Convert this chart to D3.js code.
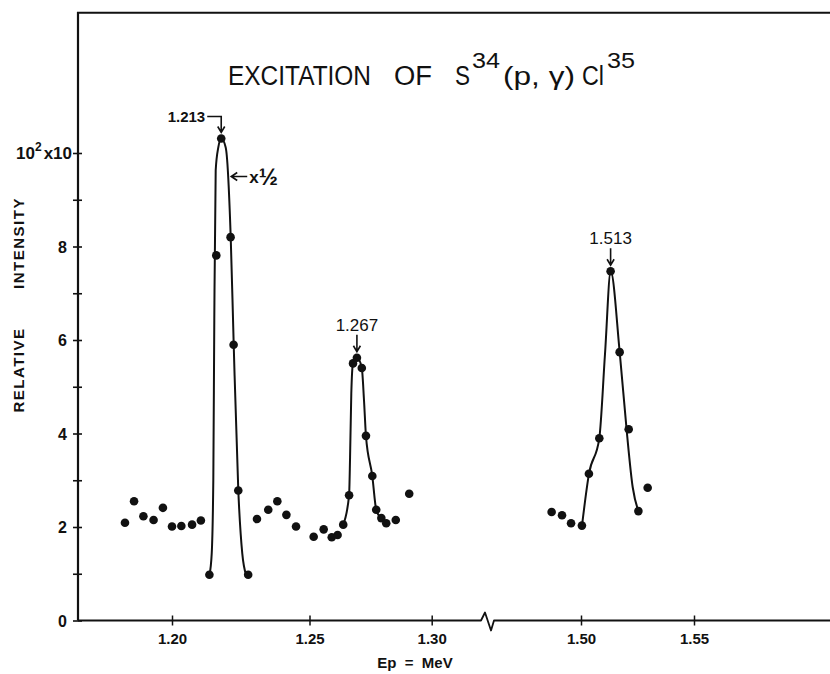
<!DOCTYPE html>
<html><head><meta charset="utf-8">
<script src="https://cdn.jsdelivr.net/npm/d3@7"></script>
<style>
body{margin:0;background:#fff}
svg{display:block}
text{font-family:"Liberation Sans",Arial,sans-serif;fill:#111}
</style>
</head><body>
<svg id="chart" width="830" height="674"></svg>
<script>
// ---------- data ----------
// measured points, proton energy in MeV
const pointsEnergy = [
  1.1829,1.1862,1.1896,1.1933,1.1967,1.2000,1.2034,1.2073,1.2105,1.2136,
  1.2161,1.2179,1.2213,1.2224,1.2241,1.2277,
  1.2309,1.2350,1.2383,1.2416,1.2451,
  1.2517,1.2558,1.2591,1.2615,1.2638,1.2662,1.2678,1.2694,1.2714,1.2731,
  1.2757,1.2773,1.2794,1.2814,1.2853,1.2908,
  1.4870,1.4916,1.4956,1.5004,1.5035,1.5081,1.5131,1.5171,1.5211,1.5254,1.5295
];
const pointsIntensity = [
  2.09,2.55,2.23,2.15,2.41,2.01,2.02,2.05,2.14,0.98,
  7.81,10.31,8.20,5.90,2.78,0.98,
  2.17,2.37,2.55,2.26,2.01,
  1.79,1.95,1.78,1.83,2.05,2.68,5.50,5.62,5.40,3.95,
  3.09,2.37,2.19,2.08,2.15,2.71,
  2.32,2.25,2.08,2.03,3.14,3.90,7.47,5.74,4.09,2.34,2.84
];
// hand-drawn resonance curves
const curve1Energy = [1.21364,1.21444,1.21502,1.21538,1.21589,1.21684,1.21793,1.21953,1.22135,1.22244,1.22411,1.22556,1.22691];
const curve1Intensity = [0.98,1.43,3.0,6.42,9.63,10.12,10.31,10.12,8.20,5.90,2.78,1.43,0.98];
const curve2Energy = [1.2638,1.2662,1.2666,1.2671,1.2678,1.2694,1.2714,1.2723,1.2731,1.2757,1.2773,1.2794];
const curve2Intensity = [2.05,2.68,3.49,4.85,5.50,5.63,5.40,4.71,3.95,3.09,2.37,2.18];
const curve3Energy = [1.50044,1.50354,1.5081,1.51062,1.51314,1.51712,1.52022,1.52288,1.52535];
const curve3Intensity = [2.03,3.14,3.90,5.70,7.47,5.74,4.06,2.85,2.34];
// resonance labels
const peakLabels = ["1.213","1.267","1.513"];
const peakEnergy = [1.2179,1.2694,1.5131];
const peakIntensity = [10.31,5.62,7.47];
// axes
const xTicksLow = [1.20,1.25,1.30];
const xTicksHigh = [1.50,1.55];
const xTickLabels = {"1.2":"1.20","1.25":"1.25","1.3":"1.30","1.5":"1.50","1.55":"1.55"};
const yTicks = [0,1,2,3,4,5,6,7,8,9,10];
const yTickLabels = {0:"0",2:"2",4:"4",6:"6",8:"8"};
const titleText = ["EXCITATION","OF","S","34","(p, γ)","Cl","35"];
const yTitle = ["RELATIVE","INTENSITY"];
const xTitle = "Ep  =  MeV";

// ---------- scales ----------
const svg = d3.select("#chart");
const mLeft = 78, mRight = 830, mTop = 12.75, mBottom = 620.5;
const xLow = d3.scaleLinear().domain([1.20,1.25,1.30]).range([172,309.5,431.7]);
const xHigh = d3.scaleLinear().domain([1.50,1.55]).range([581,694]);
const x = v => v < 1.4 ? xLow(v) : xHigh(v);
const y = d3.scaleLinear().domain([0,13]).range([mBottom, mTop]);
const breakX = 487;

const ink = "#111";

// ---------- frame ----------
svg.append("path")
  .attr("d", `M${mLeft},${mBottom} V${mTop} H${mRight}`)
  .attr("fill","none").attr("stroke",ink).attr("stroke-width",2.2);
// bottom axis line with break
svg.append("path")
  .attr("d", `M${mLeft},${mBottom} H${breakX-6} L${breakX-2},${mBottom-8} L${breakX+4},${mBottom+10} L${breakX+7},${mBottom} H${mRight}`)
  .attr("fill","none").attr("stroke",ink).attr("stroke-width",1.8).attr("stroke-linejoin","round");

// ---------- x axes ----------
function styleXAxis(g){
  g.select(".domain").remove();
  g.selectAll(".tick line").attr("y1",-5).attr("y2",5).attr("stroke",ink).attr("stroke-width",1.5);
  g.selectAll(".tick text").attr("y",13).attr("dy","0.71em")
    .style("font-size","15px").style("font-weight","bold")
    .style("font-family",'"Liberation Sans",Arial,sans-serif').attr("fill",ink);
}
svg.append("g").attr("transform",`translate(0,${mBottom})`)
  .call(d3.axisBottom(xLow).tickValues(xTicksLow).tickFormat(d=>xTickLabels[String(d)]))
  .call(styleXAxis);
svg.append("g").attr("transform",`translate(0,${mBottom})`)
  .call(d3.axisBottom(xHigh).tickValues(xTicksHigh).tickFormat(d=>xTickLabels[String(d)]))
  .call(styleXAxis);

svg.append("text").attr("x",415).attr("y",668).attr("text-anchor","middle")
  .style("font-size","15px").style("font-weight","bold").style("white-space","pre")
  .text(xTitle);

// ---------- y axis ----------
const yAxisG = svg.append("g").attr("transform",`translate(${mLeft},0)`)
  .call(d3.axisLeft(y).tickValues(yTicks).tickFormat(d => yTickLabels[d] || ""));
yAxisG.select(".domain").remove();
yAxisG.selectAll(".tick line").attr("x1",-5).attr("x2",4).attr("stroke",ink).attr("stroke-width",1.6);
yAxisG.selectAll(".tick text").attr("x",-11).attr("dy","0.36em")
  .style("font-size","16px").style("font-weight","bold")
  .style("font-family",'"Liberation Sans",Arial,sans-serif').attr("fill",ink);
// top label "10^2 x 10"
const t10 = svg.append("text").attr("x",mLeft-6).attr("y",y(10)+6).attr("text-anchor","end")
  .style("font-size","17px").style("font-weight","bold");
t10.append("tspan").text("10");
t10.append("tspan").attr("dy",-8).style("font-size","12px").text("2");
t10.append("tspan").attr("dy",8).attr("dx",2).text("x10");

// y title
svg.append("text").attr("transform",`translate(24,370) rotate(-90)`).attr("text-anchor","middle")
  .style("font-size","15px").style("font-weight","bold").style("letter-spacing","1.5px").text(yTitle[0]);
svg.append("text").attr("transform",`translate(24,243) rotate(-90)`).attr("text-anchor","middle")
  .style("font-size","15px").style("font-weight","bold").style("letter-spacing","1.5px").text(yTitle[1]);

// ---------- title ----------
const tg = svg.append("g").style("font-weight","normal");
const tparts = [
  {t:titleText[0], x:228, w:143, y:85, s:27},
  {t:titleText[1], x:394, w:38, y:85, s:27},
  {t:titleText[2], x:455, w:15, y:85, s:27},
  {t:titleText[3], x:472, w:28, y:68, s:22},
  {t:titleText[4], x:503, w:72, y:85, s:26},
  {t:titleText[5], x:582, w:22, y:85, s:27},
  {t:titleText[6], x:607, w:28, y:68, s:22}
];
tparts.forEach(p=>{
  tg.append("text").attr("x",p.x).attr("y",p.y).style("font-size",p.s+"px")
    .attr("textLength",p.w).attr("lengthAdjust","spacingAndGlyphs").style("white-space","pre").text(p.t);
});

// ---------- curves ----------
const line = d3.line().x(d=>x(d[0])).y(d=>y(d[1])).curve(d3.curveMonotoneX);
[[curve1Energy,curve1Intensity],[curve2Energy,curve2Intensity],[curve3Energy,curve3Intensity]].forEach(([e,v])=>{
  svg.append("path").datum(e.map((d,i)=>[d,v[i]])).attr("d",line)
    .attr("fill","none").attr("stroke",ink).attr("stroke-width",2);
});

// ---------- points ----------
svg.append("g").selectAll("circle").data(pointsEnergy.map((d,i)=>[d,pointsIntensity[i]]))
  .join("circle").attr("cx",d=>x(d[0])).attr("cy",d=>y(d[1])).attr("r",4.3).attr("fill",ink);

// ---------- peak annotations ----------
const arrowHead = (tx,ty) => `M${tx-3.5},${ty-6} L${tx},${ty} L${tx+3.5},${ty-6}`;
peakLabels.forEach((lab,i)=>{
  const px = x(peakEnergy[i]), py = y(peakIntensity[i]);
  const ann = svg.append("g");
  const tipY = py-6;
  if(i===0){
    ann.append("path").attr("d",`M${px-14},${tipY-16} H${px} V${tipY} ${arrowHead(px,tipY)}`)
      .attr("fill","none").attr("stroke",ink).attr("stroke-width",1.6);
    ann.append("text").attr("x",px-16).attr("y",tipY-11).attr("text-anchor","end")
      .style("font-size","15px").style("font-weight","bold").text(lab);
  } else {
    ann.append("path").attr("d",`M${px},${tipY-17} V${tipY} ${arrowHead(px,tipY)}`)
      .attr("fill","none").attr("stroke",ink).attr("stroke-width",1.6);
    ann.append("text").attr("x",px).attr("y",tipY-21).attr("text-anchor","middle")
      .style("font-size","17px").text(lab);
  }
});
// "x 1/2" scale note on the first peak
{
  const px = x(peakEnergy[0]) + 10, py = y(peakIntensity[0]) + 38;
  svg.append("path").attr("d",`M${px+16},${py} H${px} M${px+6},${py-4} L${px},${py} L${px+6},${py+4}`)
    .attr("fill","none").attr("stroke",ink).attr("stroke-width",1.6);
  const tx = svg.append("text").attr("x",px+18).attr("y",py+6).style("font-weight","bold");
  tx.append("tspan").style("font-size","17px").text("x");
  tx.append("tspan").style("font-size","23px").attr("dy",2).text("½");
}
</script>
</body></html>
